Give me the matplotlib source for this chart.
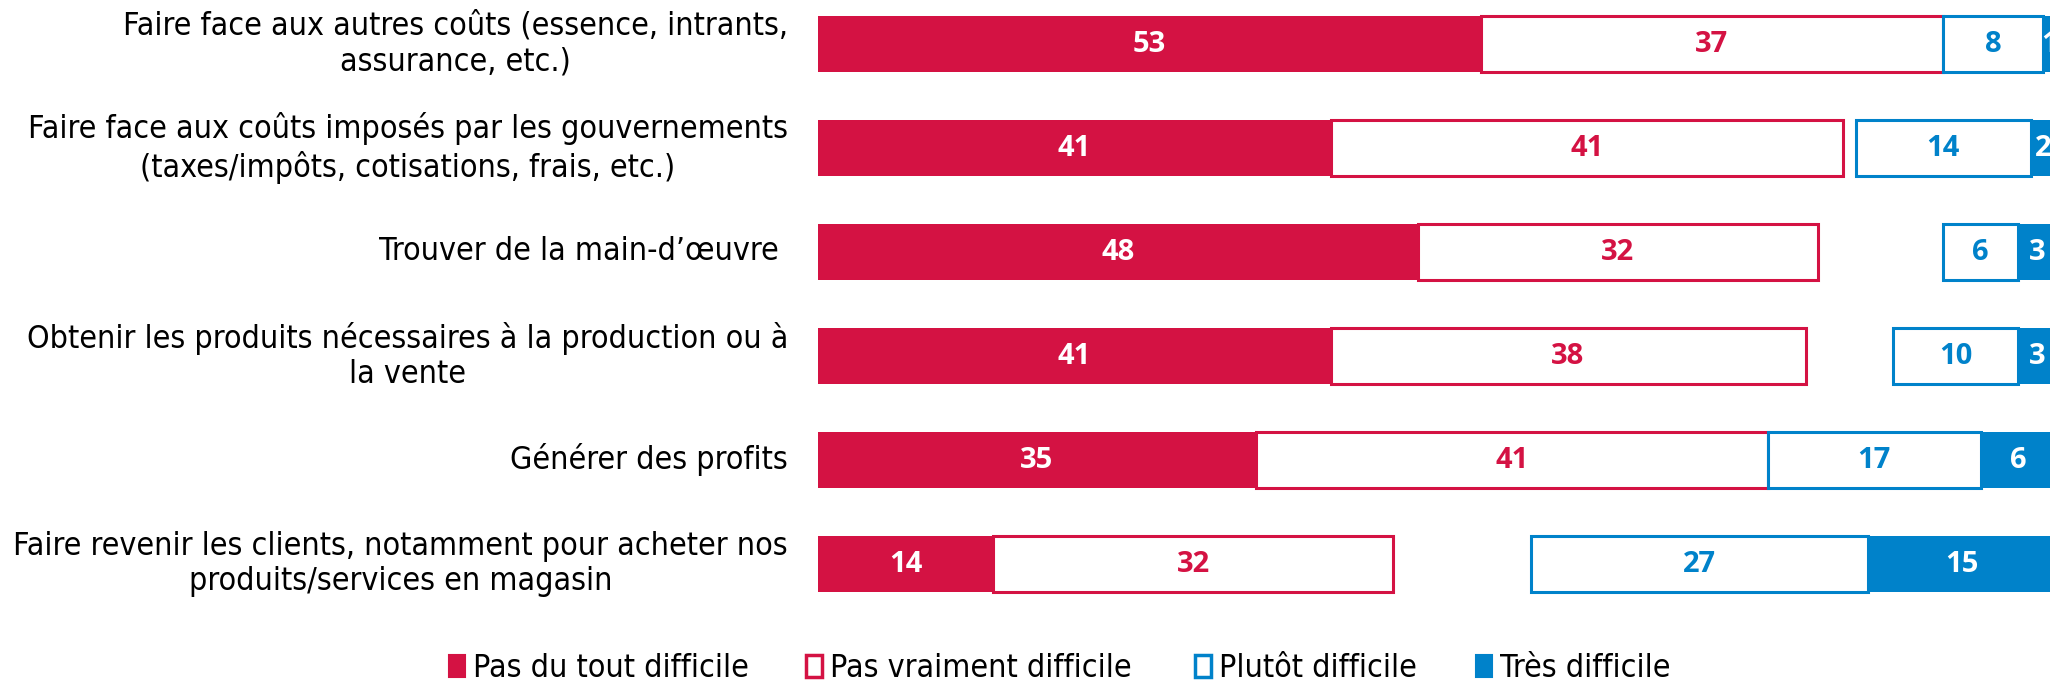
import matplotlib
matplotlib.use('Agg')
import matplotlib.pyplot as plt
from matplotlib import font_manager
from matplotlib.patches import Patch
import numpy as np

categories = [
    "Faire face aux autres coûts (essence, intrants,\nassurance, etc.)",
    "Faire face aux coûts imposés par les gouvernements\n(taxes/impôts, cotisations, frais, etc.)",
    "Trouver de la main-d\u2019œuvre ",
    "Obtenir les produits nécessaires à la production ou à\nla vente",
    "Générer des profits",
    "Faire revenir les clients, notamment pour acheter nos\nproduits/services en magasin",
]
pas_du_tout = [53, 41, 48, 41, 35, 14]
pas_vraiment = [37, 41, 32, 38, 41, 32]
plutot = [8, 14, 6, 10, 17, 27]
tres = [1, 2, 3, 3, 6, 15]
legend_labels = ["Pas du tout difficile", "Pas vraiment difficile", "Plutôt difficile", "Très difficile"]

RED = '#D41243'
BLUE = '#0082CA'

# a condensed face if one is installed
cond = [f for f in font_manager.fontManager.ttflist
        if 'ondensed' in f.fname or 'arrow' in f.fname]
if cond:
    label_prop = font_manager.FontProperties(fname=sorted(cond, key=lambda f: ('Bold' in f.fname, 'Oblique' in f.fname, f.fname))[0].fname)
    label_size = 23
else:
    label_prop = font_manager.FontProperties(family='DejaVu Sans')
    label_size = 20.5
num_font = 'Open Sans'

W, H = 2050, 684
fig = plt.figure(figsize=(W / 100, H / 100), dpi=100)
x0 = 818
scale = 12.5  # px per unit
ax = fig.add_axes([x0 / W, 0, 1 - x0 / W, 1])
ax.set_xlim(0, (W - x0) / scale)
ax.set_ylim((H - 44) / 104, -44 / 104)
ax.axis('off')

y = np.arange(len(categories))
h = 0.54
right_end = 99.0
a = np.array(pas_du_tout)
b = np.array(pas_vraiment)
c = np.array(plutot)
d = np.array(tres)

ax.barh(y, a, height=h, color=RED, edgecolor=RED, linewidth=0)
ax.barh(y, b, left=a, height=h, color='white', edgecolor=RED, linewidth=2.2)
blue_left = right_end - c - d
ax.barh(y, c, left=blue_left, height=h, color='white', edgecolor=BLUE, linewidth=2.2)
ax.barh(y, d, left=blue_left + c, height=h, color=BLUE, edgecolor=BLUE, linewidth=0)

def put(xs, ws, color):
    for yi, xl, w in zip(y, xs, ws):
        ax.text(xl + w / 2, yi, str(w), ha='center', va='center', color=color,
                fontsize=21, fontweight='bold', family=num_font)

put(np.zeros_like(a), a, 'white')
put(a, b, RED)
put(blue_left, c, BLUE)
put(blue_left + c, d, 'white')

for yi, cat in zip(y, categories):
    ax.text(-2.4, yi, cat, ha='right', va='center', multialignment='center',
            fontsize=label_size, fontproperties=label_prop, color='black', linespacing=1.2)

handles = [
    Patch(facecolor=RED, edgecolor=RED, linewidth=1.5),
    Patch(facecolor='white', edgecolor=RED, linewidth=2.5),
    Patch(facecolor='white', edgecolor=BLUE, linewidth=2.5),
    Patch(facecolor=BLUE, edgecolor=BLUE, linewidth=1.5),
]
lp = label_prop.copy()
lp.set_size(label_size)
# one legend per entry, the gaps in the original are uneven
leg_x = [449, 806, 1195, 1476]
for hd, lab, lx in zip(handles, legend_labels, leg_x):
    fig.legend([hd], [lab], loc='center left', bbox_to_anchor=(lx / W, 0.022),
               frameon=False, handlelength=0.5, handleheight=0.7, handletextpad=0.25,
               borderpad=0, borderaxespad=0, prop=lp)

fig.savefig('out.png', dpi=100)
